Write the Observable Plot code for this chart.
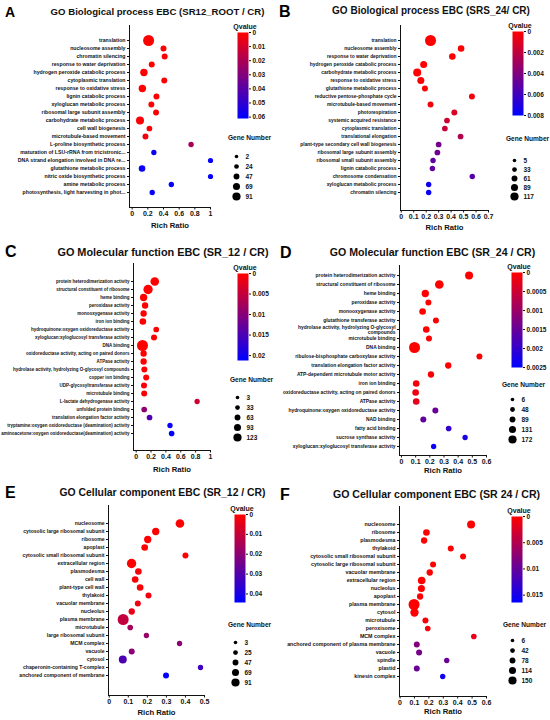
<!DOCTYPE html>
<html><head><meta charset="utf-8">
<script src="https://cdn.jsdelivr.net/npm/d3@7"></script>
<script src="https://cdn.jsdelivr.net/npm/@observablehq/plot@0.6"></script>
<style>
html,body{margin:0;padding:0;background:#fff;}
#root{position:relative;width:550px;height:720px;overflow:hidden;font-family:"Liberation Sans",Arial,sans-serif;}
#root > *{position:absolute;}
</style></head><body><div id="root"></div>
<script>
// ---------- DATA ----------
const aTerms = ["translation","nucleosome assembly","chromatin silencing","response to water deprivation","hydrogen peroxide catabolic process","cytoplasmic translation","response to oxidative stress","lignin catabolic process","xyloglucan metabolic process","ribosomal large subunit assembly","carbohydrate metabolic process","cell wall biogenesis","microtubule-based movement","L-proline biosynthetic process","maturation of LSU-rRNA from tricistronic...","DNA strand elongation involved in DNA re...","glutathione metabolic process","nitric oxide biosynthetic process","amine metabolic process","photosynthesis, light harvesting in phot..."];
const aRatio = [0.21,0.40,0.415,0.25,0.15,0.41,0.13,0.31,0.245,0.305,0.10,0.22,0.17,0.752,0.277,1.0,0.126,1.0,0.50,0.256];
const aQ = [0,0,0,0,0,0,0,0,0.001,0.001,0.001,0.002,0.003,0.021,0.058,0.059,0.059,0.059,0.06,0.06];
const aGenes = [91,14,14,14,36,14,36,14,14,13,45,10,14,5,4,2,23,2,4,4];

const bTerms = ["translation","nucleosome assembly","response to water deprivation","hydrogen peroxide catabolic process","carbohydrate metabolic process","response to oxidative stress","glutathione metabolic process","reductive pentose-phosphate cycle","microtubule-based movement","photorespiration","systemic acquired resistance","cytoplasmic translation","translational elongation","plant-type secondary cell wall biogenesis","ribosomal large subunit assembly","ribosomal small subunit assembly","lignin catabolic process","chromosome condensation","xyloglucan metabolic process","chromatin silencing"];
const bRatio = [0.235,0.48,0.41,0.18,0.128,0.157,0.19,0.567,0.235,0.426,0.367,0.35,0.476,0.30,0.29,0.255,0.25,0.57,0.22,0.22];
const bQ = [0,0,0,0,0,0,0,0.0003,0.0004,0.0012,0.0016,0.0018,0.0024,0.0044,0.0046,0.005,0.005,0.0053,0.0076,0.0077];
const bGenes = [117,32,32,40,59,40,20,20,20,20,15,15,15,15,15,9,9,9,9,9];

const cTerms = ["protein heterodimerization activity","structural constituent of ribosome","heme binding","peroxidase activity","monooxygenase activity","iron ion binding","hydroquinone:oxygen oxidoreductase activity","xyloglucan:xyloglucosyl transferase activity","DNA binding","oxidoreductase activity, acting on paired donors","ATPase activity","hydrolase activity, hydrolyzing O-glycosyl compounds","copper ion binding","UDP-glycosyltransferase activity","microtubule binding","L-lactate dehydrogenase activity","unfolded protein binding","translation elongation factor activity","tryptamine:oxygen oxidoreductase (deamination) activity","aminoacetone:oxygen oxidoreductase(deamination) activity"];
const cRatio = [0.25,0.16,0.10,0.12,0.10,0.09,0.27,0.24,0.085,0.10,0.10,0.11,0.135,0.105,0.108,0.82,0.108,0.18,0.455,0.477];
const cQ = [0,0,0,0,0,0,0,0,0,0,0,0,0,0.0003,0.0005,0.004,0.0095,0.0147,0.0205,0.021];
const cGenes = [75,89,47,27,27,33,13,20,123,27,27,20,20,20,20,5,13,13,5,12];

const dTerms = ["protein heterodimerization activity","structural constituent of ribosome","heme binding","peroxidase activity","monooxygenase activity","glutathione transferase activity","hydrolase activity, hydrolyzing O-glycosyl\ncompounds","microtubule binding","DNA binding","ribulose-bisphosphate carboxylase activity","translation elongation factor activity","ATP-dependent microtubule motor activity","iron ion binding","oxidoreductase activity, acting on paired donors","ATPase activity","hydroquinone:oxygen oxidoreductase activity","NAD binding","fatty acid binding","sucrose synthase activity","xyloglucan:xyloglucosyl transferase activity"];
const dRatio = [0.477,0.267,0.168,0.19,0.149,0.243,0.175,0.194,0.092,0.55,0.33,0.208,0.104,0.10,0.104,0.239,0.154,0.333,0.449,0.227];
const dQ = [0,0,0,0,0,0,0,0,0,0,0,0.00005,0.0001,0.00015,0.00025,0.0015,0.00155,0.002,0.00225,0.0024];
const dGenes = [86,105,67,29,48,29,48,29,172,29,38,38,48,48,48,29,29,19,10,10];

const eTerms = ["nucleosome","cytosolic large ribosomal subunit","ribosome","apoplast","cytosolic small ribosomal subunit","extracellular region","plasmodesma","cell wall","plant-type cell wall","thylakoid","vacuolar membrane","nucleolus","plasma membrane","microtubule","large ribosomal subunit","MCM complex","vacuole","cytosol","chaperonin-containing T-complex","anchored component of membrane"];
const eRatio = [0.371,0.244,0.202,0.186,0.40,0.117,0.153,0.136,0.162,0.206,0.15,0.118,0.073,0.11,0.195,0.369,0.118,0.071,0.479,0.298];
const eQ = [0,0,0,0,0,0,0.001,0.001,0.001,0.002,0.003,0.004,0.011,0.016,0.018,0.02,0.02,0.031,0.034,0.044];
const eGenes = [55,35,35,25,15,66,25,25,25,15,15,20,91,10,5,5,15,45,5,15];

const fTerms = ["nucleosome","ribosome","plasmodesma","thylakoid","cytosolic small ribosomal subunit","cytosolic large ribosomal subunit","vacuolar membrane","extracellular region","nucleolus","apoplast","plasma membrane","cytosol","microtubule","peroxisome","MCM complex","anchored component of plasma membrane","vacuole","spindle","plastid","kinesin complex"];
const fRatio = [0.493,0.183,0.167,0.352,0.4375,0.229,0.206,0.15,0.148,0.139,0.097,0.10,0.176,0.192,0.512,0.116,0.132,0.324,0.116,0.296];
const fQ = [0,0,0,0,0,0,0,0,0,0,0,0,0.0005,0.0008,0.0015,0.008,0.0088,0.0096,0.0096,0.0155];
const fGenes = [76,42,34,26,26,26,34,67,51,34,150,84,26,17,17,26,26,10,26,10];

// tick labels
const aXTicks = [0,0.2,0.4,0.6,0.8,1];
const bXTicks = [0,0.1,0.2,0.3,0.4,0.5,0.6,0.7];
const cXTicks = [0,0.2,0.4,0.6,0.8,1];
const dXTicks = [0,0.1,0.2,0.3,0.4,0.5,0.6];
const eXTicks = [0,0.1,0.2,0.3,0.4,0.5];
const fXTicks = [0,0.1,0.2,0.3,0.4,0.5,0.6];
const aQTicks = [0,0.01,0.02,0.03,0.04,0.05,0.06];
const bQTicks = [0,0.002,0.004,0.006,0.008];
const cQTicks = [0,0.005,0.01,0.015,0.02];
const dQTicks = [0,0.0005,0.001,0.0015,0.002,0.0025];
const eQTicks = [0,0.01,0.02,0.03,0.04];
const fQTicks = [0,0.005,0.01,0.015];
const aSizes = [2,24,47,69,91];
const bSizes = [5,33,61,89,117];
const cSizes = [3,33,63,93,123];
const dSizes = [6,48,89,131,172];
const eSizes = [3,25,47,69,91];
const fSizes = [6,42,78,114,150];

const titles = ["GO Biological process EBC (SR12_ROOT / CR)","GO Biological process EBC (SRS_24/ CR)","GO Molecular function EBC (SR_12 / CR)","GO Molecular function EBC (SR_24 / CR)","GO Cellular component EBC (SR_12 / CR)","GO Cellular component EBC (SR 24 / CR)"];
const letters = ["A","B","C","D","E","F"];

// ---------- LAYOUT ----------
const FONT = '"Liberation Sans", Arial, sans-serif';
const panels = [
  {terms:aTerms, ratio:aRatio, q:aQ, genes:aGenes, xTicks:aXTicks, qTicks:aQTicks, sizes:aSizes, qmax:0.061, labFs:5.2,
   left:0, top:0, w:232, h:235, mL:129, mT:25, mR:22, mB:28, yRange:[31,200], xDomain:[-0.034,1], labDy:20,
   cb:{x:237, y:32, h:86}, lg:{cx:236, titleX:249, titleY:135, y0:149, y1:203}},
  {terms:bTerms, ratio:bRatio, q:bQ, genes:bGenes, xTicks:bXTicks, qTicks:bQTicks, sizes:bSizes, qmax:0.008, labFs:4.9,
   left:275, top:0, w:232, h:235, mL:125, mT:25, mR:19, mB:25, yRange:[31,200], xDomain:[-0.006,0.7], labDy:19,
   cb:{x:512, y:31, h:84}, lg:{cx:514, titleX:527, titleY:136, y0:155, y1:201}},
  {terms:cTerms, ratio:cRatio, q:cQ, genes:cGenes, xTicks:cXTicks, qTicks:cQTicks, sizes:cSizes, qmax:0.0212, labFs:4.5,
   left:0, top:235, w:232, h:245, mL:133, mT:28, mR:22, mB:30, yRange:[34,209], xDomain:[-0.036,1], labDy:21,
   cb:{x:237, y:273, h:87}, lg:{cx:237, titleX:251, titleY:377, y0:390, y1:443}},
  {terms:dTerms, ratio:dRatio, q:dQ, genes:dGenes, xTicks:dXTicks, qTicks:dQTicks, sizes:dSizes, qmax:0.0025, labFs:4.9,
   left:275, top:235, w:232, h:245, mL:124, mT:30, mR:21, mB:25, yRange:[35,215], xDomain:[-0.014,0.6], labDy:17,
   cb:{x:511, y:272, h:95}, lg:{cx:512, titleX:523, titleY:382, y0:394, y1:444}},
  {terms:eTerms, ratio:eRatio, q:eQ, genes:eGenes, xTicks:eXTicks, qTicks:eQTicks, sizes:eSizes, qmax:0.0443, labFs:5.1,
   left:0, top:475, w:232, h:245, mL:108, mT:30, mR:28, mB:25, yRange:[36,211], xDomain:[-0.004,0.5], labDy:19,
   cb:{x:234, y:514, h:88}, lg:{cx:235, titleX:249, titleY:622, y0:635, y1:689}},
  {terms:fTerms, ratio:fRatio, q:fQ, genes:fGenes, xTicks:fXTicks, qTicks:fQTicks, sizes:fSizes, qmax:0.0164, labFs:5.3,
   left:275, top:475, w:232, h:245, mL:124, mT:31, mR:21, mB:24, yRange:[37,213], xDomain:[-0.004,0.6], labDy:17,
   cb:{x:511, y:516, h:86}, lg:{cx:512, titleX:524, titleY:622, y0:634, y1:686}}
];
const titlePos = [
  {x:157.5, y:14.5, fs:9.6}, {x:431, y:14, fs:10}, {x:163, y:255.5, fs:10.9},
  {x:432.5, y:255.5, fs:10.6}, {x:162.5, y:495.5, fs:10.4}, {x:436.5, y:497.5, fs:10.6}
];
const letterPos = [
  {x:5, y:16.5, fs:14}, {x:279, y:16.5, fs:16}, {x:5, y:257, fs:16},
  {x:280, y:258, fs:16}, {x:5, y:498, fs:16}, {x:280, y:499.5, fs:16}
];

const root = document.getElementById("root");
const fmt = d3.format("~g");
const place = (el, left, top) => { el.style.left = left + "px"; el.style.top = top + "px"; root.appendChild(el); };
const colorScale = (qmax) => ({type:"linear", domain:[0, qmax], range:["#ff0000","#0000ff"], interpolate:"rgb", clamp:true});
const baseStyle = {fontFamily: FONT, background: "transparent", overflow: "visible", color: "#111"};

panels.forEach((p) => {
  const data = p.terms.map((t, i) => ({term: t, ratio: p.ratio[i], q: p.q[i], genes: p.genes[i]}));
  const main = Plot.plot({
    width: p.w, height: p.h,
    marginLeft: p.mL, marginTop: p.mT, marginRight: p.mR, marginBottom: p.mB,
    style: baseStyle,
    x: {domain: p.xDomain},
    y: {type: "point", domain: p.terms, range: p.yRange},
    r: {type: "linear", domain: [p.sizes[0], p.sizes[p.sizes.length - 1]], range: [2.6, 5.5]},
    color: colorScale(p.qmax),
    marks: [
      Plot.frame({anchor: "left", stroke: "#111", strokeWidth: 1}),
      Plot.frame({anchor: "bottom", stroke: "#111", strokeWidth: 1}),
      Plot.axisY({tickSize: 2, tickPadding: 2, fontSize: p.labFs, fontWeight: "bold", label: null, tickFormat: d => d}),
      Plot.axisX({ticks: p.xTicks, tickSize: 2.5, tickPadding: 1.5, fontSize: 7, fontWeight: "bold", label: null, tickFormat: fmt}),
      Plot.dot(data, {x: "ratio", y: "term", r: "genes", fill: "q", stroke: "none"}),
      Plot.text(["Rich Ratio"], {frameAnchor: "bottom", dy: p.labDy, fontSize: 7.7, fontWeight: "bold", fill: "#111"})
    ]
  });
  place(main, p.left, p.top);

  // colour bar
  const cbW = 11;
  const cb = Plot.plot({
    width: 52, height: p.cb.h + 20,
    marginLeft: 0, marginRight: 52 - cbW, marginTop: 14, marginBottom: 6,
    style: baseStyle,
    x: {domain: [0, 1], axis: null},
    y: {domain: [0, p.qmax], reverse: true, axis: null},
    color: colorScale(p.qmax),
    marks: [
      Plot.raster({x1: 0, x2: 1, y1: 0, y2: p.qmax, fill: (x, y) => y, width: 1, height: 200}),
      Plot.axisY({anchor: "right", ticks: p.qTicks, tickFormat: fmt, tickSize: 2, tickPadding: 2, fontSize: 6.5, fontWeight: "bold", label: null}),
      Plot.text(["Qvalue"], {frameAnchor: "top", dy: -8.5, dx: 2, fontSize: 7, fontWeight: "bold", fill: "#111"})
    ]
  });
  place(cb, p.cb.x, p.cb.y - 14);

  // size legend
  const lgLeft = p.lg.cx - 10, lgTop = p.lg.titleY - 8;
  const lgH = p.lg.y1 - lgTop + 10;
  const lg = Plot.plot({
    width: 60, height: lgH, margin: 0,
    style: baseStyle,
    x: {domain: [0, 1], range: [10, 60], axis: null},
    y: {type: "point", domain: p.sizes, range: [p.lg.y0 - lgTop, p.lg.y1 - lgTop], axis: null},
    r: {type: "linear", domain: [p.sizes[0], p.sizes[p.sizes.length - 1]], range: [1.8, 4.1]},
    marks: [
      Plot.dot(p.sizes, {x: () => 0, y: d => d, r: d => d, fill: "#000", stroke: "none"}),
      Plot.text(p.sizes, {x: () => 0, y: d => d, text: d => String(d), dx: 9, textAnchor: "start", fontSize: 6.5, fontWeight: "bold", fill: "#111"}),
      Plot.text(["Gene Number"], {frameAnchor: "top-left", dx: p.lg.titleX - lgLeft, dy: 8, textAnchor: "middle", fontSize: 6.6, fontWeight: "bold", fill: "#111"})
    ]
  });
  place(lg, lgLeft, lgTop);
});

// titles and panel letters
const over = d3.create("svg").attr("width", 550).attr("height", 720).style("pointer-events", "none").style("font-family", FONT);
titles.forEach((t, i) => {
  over.append("text").attr("x", titlePos[i].x).attr("y", titlePos[i].y).attr("text-anchor", "middle")
    .attr("font-size", titlePos[i].fs).attr("font-weight", "bold").attr("fill", "#111").text(t);
});
letters.forEach((t, i) => {
  over.append("text").attr("x", letterPos[i].x).attr("y", letterPos[i].y)
    .attr("font-size", letterPos[i].fs).attr("font-weight", "bold").attr("fill", "#000").text(t);
});
place(over.node(), 0, 0);
</script>
</body></html>
